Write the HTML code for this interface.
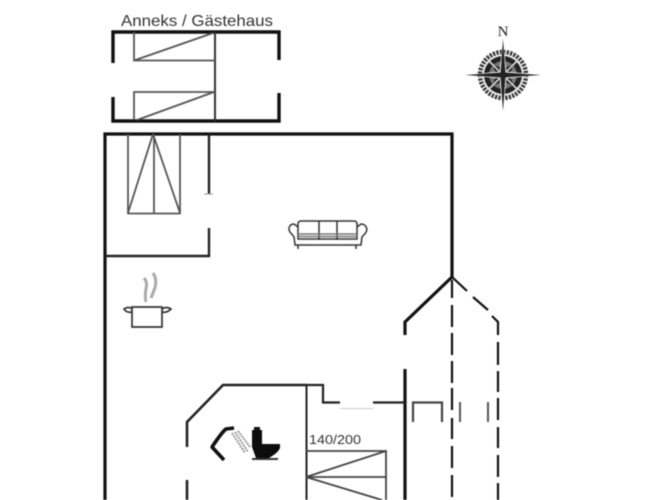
<!DOCTYPE html>
<html><head><meta charset="utf-8"><style>html,body{margin:0;padding:0;background:#fff;width:667px;height:500px;overflow:hidden}svg{display:block;filter:blur(.5px)}</style></head><body>
<svg width="667" height="500" viewBox="0 0 667 500" xmlns="http://www.w3.org/2000/svg">
<rect width="667" height="500" fill="#fff"/>
<text x="121" y="26" font-family="'Liberation Sans',sans-serif" font-size="16" textLength="152" lengthAdjust="spacingAndGlyphs" fill="#333">Anneks / Gästehaus</text>
<g fill="none" stroke="#111" stroke-linecap="butt">
<path d="M113 63V32H279V60M113 97V121H279V93" stroke-width="3.400"/>
<path d="M215 32V121" stroke-width="2" stroke="#333"/>
<path d="M134 32V60.500H215M134 60.500L213 33M134 120V92H215M137 120L214 92" stroke-width="1.800" stroke="#555"/>
<path d="M105 500V134H452V277L405 322V335M405 369V500" stroke-width="3.200"/>
<path d="M128 134V213.500H180V134M154 134V213.500M153 134L128 213M153 134L180 213" stroke-width="1.800" stroke="#555"/>
<path d="M209 134V194M209 228V256H105" stroke-width="2.400" stroke="#222"/>
<path d="M204 194H213" stroke-width="1" stroke="#999"/>
<path d="M452 277L467 291M473 297L488 310M492 316L498 322V335M498 342V365M498 371V392M498 398V420M498 427V448M498 455V477M498 483V500" stroke-width="2.200"/>
<path d="M452 280V298M452 305V327M452 333V355M452 361V383M452 388V410M452 418V439M452 446V468M452 475V497" stroke-width="2.200"/>
<path d="M187 447V422L223 385H307M187 480V500" stroke-width="2.600" stroke="#222"/>
<path d="M306.500 385V500" stroke-width="2" stroke="#222"/>
<path d="M307 385H323V402.500H340M373 402.500H405" stroke-width="2.200" stroke="#222"/>
<path d="M340 408.500H373" stroke-width="1" stroke="#ccc"/>
<path d="M413 422V402.500H442V422" stroke-width="2.200" stroke="#444"/>
<path d="M460 402V422M488 402V422" stroke-width="2" stroke="#555"/>
<path d="M306 451H386V500M306 477H386M306 477L386 451M306 477L382 500" stroke-width="1.800" stroke="#444"/>
<!-- sofa -->
<g stroke="#333" stroke-width="1.500">
<path d="M298 224Q298 221 301 221H354Q357 221 357 224V239H298ZM319 221V240M337 221V240"/>
<path d="M298 227L294 224C289 224 288 229 290 232C292 235 293 235 294 237L295 245H361L362 237C363 235 365 235 366 232C368 229 366 224 361 224L357 227"/>
<path d="M298 234H357M298 236.500H357" stroke="#777" stroke-width="1.500"/>
<path d="M298 245V249M356 245V249"/>
</g>
<!-- pot -->
<g stroke="#333" stroke-width="1.700">
<path d="M132 307H162V327H132ZM132 312C128 313 125 311 124 309C127 307 130 307 132 309M162 312C166 313 169 311 171 309C168 307 165 307 162 309"/>
</g>
<path d="M144 278C150 285 143 290 146 302M153 273C159 282 154 290 151 298" stroke="#aaa" stroke-width="3"/>
<!-- shower -->
<path d="M234 428L226 429C222 432 216 441 212 447L224 460" stroke="#111" stroke-width="3.600" stroke-linejoin="round"/>
<path d="M232 433L245 453M235 432L248 452M238 431L250 447" stroke="#999" stroke-width="2" stroke-dasharray="2 1"/>
</g>
<!-- toilet -->
<path d="M252 430H262V444H280V448C278 453 272 456 269 458H256L252 447Z" fill="#0c0c0c"/>
<path d="M254 427H260V431H254Z" fill="#111"/>
<path d="M252 458H278V460H252Z" fill="#333"/>
<text x="309" y="444" font-family="'Liberation Sans',sans-serif" font-size="13" textLength="52" lengthAdjust="spacingAndGlyphs" fill="#333">140/200</text>
<!-- compass -->
<text x="503" y="36" font-family="'Liberation Serif',serif" font-size="15" text-anchor="middle" fill="#222">N</text>
<g transform="translate(503 75)">
<circle r="23" fill="none" stroke="#333" stroke-width="4.500" stroke-dasharray="2.200 1.300"/>
<circle r="20.500" fill="#eee"/>
<circle r="19" fill="#222"/>
<circle r="14" fill="#777"/>
<path d="M0 -6L-11 -11L-6 0L-11 11L0 6L11 11L6 0L11 -11Z" fill="#111"/>
<path d="M-15 -15L-4 -4M15 -15L4 -4M-15 15L-4 4M15 15L4 4" stroke="#ddd" stroke-width="1.600"/>
<path d="M0 -36L3.500 -3.500L38 0L3.500 3.500L0 36L-3.500 3.500L-38 0L-3.500 -3.500Z" fill="#fff"/>
<path d="M0 -36L2.500 -2.500L38 0L2.500 2.500L0 36L-2.500 2.500L-38 0L-2.500 -2.500Z" fill="#222"/>
</g>
</svg>
</body></html>
